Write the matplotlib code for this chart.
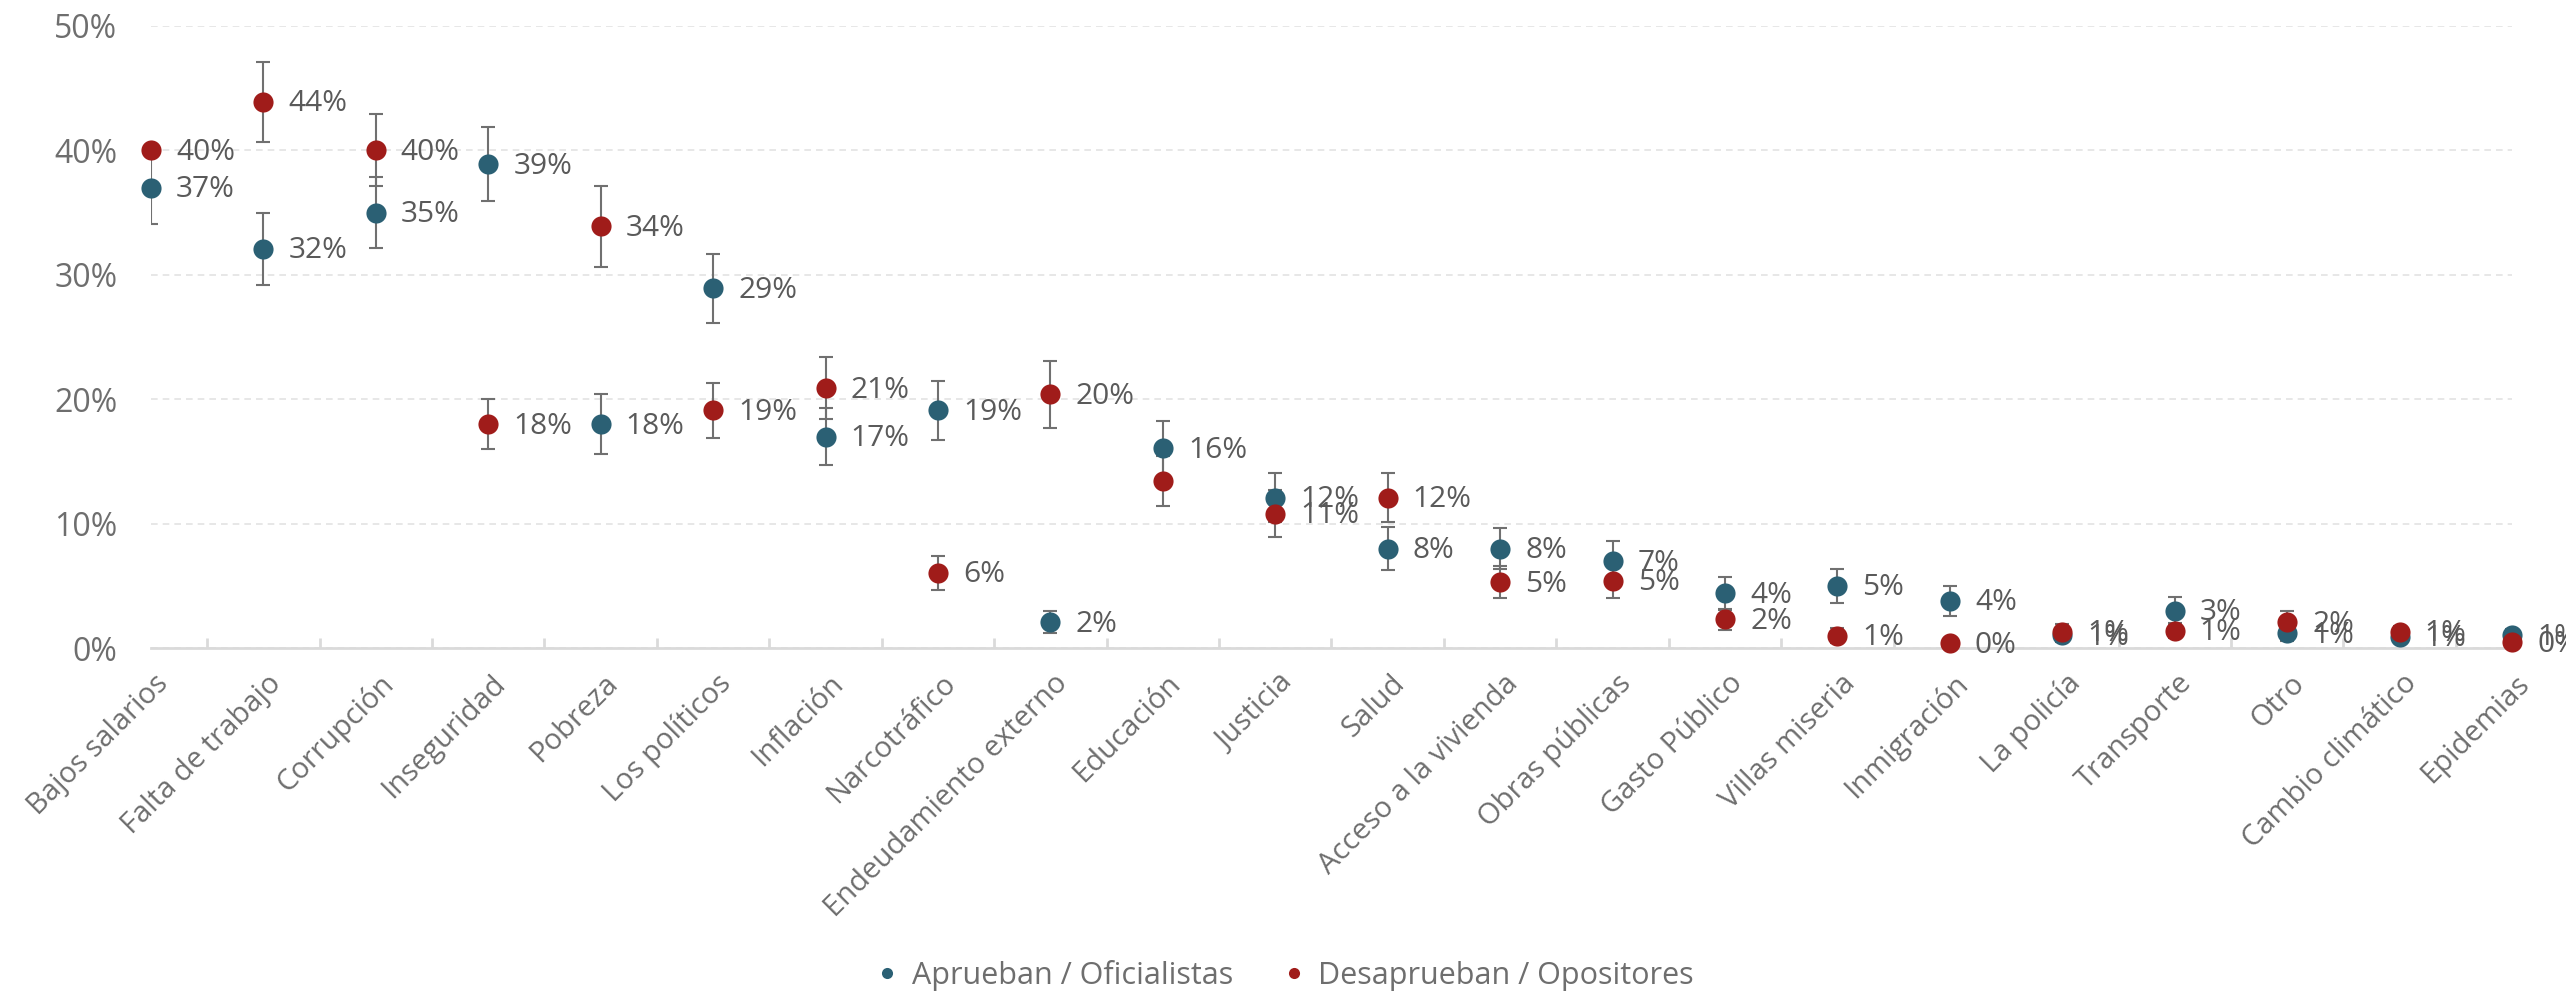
import matplotlib
matplotlib.use("Agg")
import matplotlib.pyplot as plt
import matplotlib.transforms as mtransforms
from matplotlib.ticker import FixedLocator, PercentFormatter
from matplotlib.lines import Line2D
import numpy as np

plt.rcParams['font.family'] = ['Open Sans', 'DejaVu Sans']

# problem categories
categories = ["Bajos salarios", "Falta de trabajo", "Corrupción", "Inseguridad", "Pobreza",
              "Los políticos", "Inflación", "Narcotráfico", "Endeudamiento externo", "Educación",
              "Justicia", "Salud", "Acceso a la vivienda", "Obras públicas", "Gasto Público",
              "Villas miseria", "Inmigración", "La policía", "Transporte", "Otro",
              "Cambio climático", "Epidemias"]

# Aprueban / Oficialistas
aprueban = [37, 32.1, 35, 38.9, 18, 28.9, 17, 19.1, 2.1, 16.05, 12.1, 8.0,
            8.0, 7.0, 4.4, 5.0, 3.8, 1.05, 3.0, 1.2, 0.9, 1.05]
aprueban_err = [2.9, 2.9, 2.85, 3.0, 2.4, 2.8, 2.3, 2.4, 0.9, 2.2, 2.0, 1.7,
                1.65, 1.6, 1.3, 1.35, 1.2, 0.6, 1.07, 0.6, 0.5, 0.5]

# Desaprueban / Opositores
desaprueban = [40, 43.9, 40, 18, 33.9, 19.1, 20.9, 6.05, 20.4, 13.4, 10.8, 12.1,
               5.3, 5.4, 2.3, 1.0, 0.4, 1.3, 1.4, 2.1, 1.3, 0.45]
desaprueban_err = [0, 3.2, 2.9, 2.0, 3.25, 2.2, 2.5, 1.35, 2.7, 2.0, 1.9, 2.0,
                   1.3, 1.4, 0.85, 0.6, 0.4, 0.6, 0.6, 0.9, 0.5, 0.4]
# labels that are hidden in the original (overlap)
desaprueban_hidden = ["Educación"]

blue = "#2B6074"
red = "#A01C1A"
label_col = "#5A5A5A"
tick_col = "#6E6E6E"

fig = plt.figure(figsize=(25.66, 9.94), dpi=100)
ax = fig.add_axes([0.0588, 0.348, 0.9202, 0.626])

x = np.arange(len(categories))

for vals, errs, col, hidden in [(aprueban, aprueban_err, blue, []),
                                (desaprueban, desaprueban_err, red, desaprueban_hidden)]:
    ax.errorbar(x, vals, yerr=errs, fmt="none", ecolor="#707070", elinewidth=1.5,
                capsize=5, capthick=1.5, zorder=2)
    ax.plot(x, vals, "o", color=col, markersize=14.5, markeredgewidth=0,
            clip_on=False, zorder=3)
    for xi, v, cat in zip(x, vals, categories):
        if cat in hidden:
            continue
        ax.annotate(f"{round(v):.0f}%", (xi, v), xytext=(18, -1.5), textcoords="offset points",
                    ha="left", va="center", fontsize=21.5, color=label_col,
                    annotation_clip=False, zorder=4)

ax.set_xlim(0, len(categories) - 1)
ax.set_ylim(0, 50)

ax.yaxis.set_major_locator(FixedLocator([0, 10, 20, 30, 40, 50]))
ax.yaxis.set_major_formatter(PercentFormatter(decimals=0))
ax.grid(axis="y", color="#E3E3E3", linestyle=(0, (4, 3)), linewidth=1.2)
ax.set_axisbelow(True)
ax.tick_params(axis="y", length=0, pad=24, labelsize=23, labelcolor=tick_col)

ax.set_xticks(x)
ax.set_xticklabels(categories, rotation=45, ha="right", va="top",
                   rotation_mode="anchor", fontsize=21, color=tick_col)
ax.tick_params(axis="x", which="major", length=0, pad=15)
shift = mtransforms.ScaledTranslation(3 / 100, 0, fig.dpi_scale_trans)
for lab in ax.get_xticklabels():
    lab.set_transform(lab.get_transform() + shift)
ax.set_xticks(x[:-1] + 0.5, minor=True)
ax.tick_params(axis="x", which="minor", direction="in", length=7, width=2, color="#DADADA")

for s in ["top", "right", "left"]:
    ax.spines[s].set_visible(False)
ax.spines["bottom"].set_color("#DADADA")
ax.spines["bottom"].set_linewidth(2)

handles = [Line2D([], [], marker="o", linestyle="none", color=blue, markersize=8,
                  markeredgewidth=0, label="Aprueban / Oficialistas"),
           Line2D([], [], marker="o", linestyle="none", color=red, markersize=8,
                  markeredgewidth=0, label="Desaprueban / Opositores")]
leg = fig.legend(handles=handles, loc="center", bbox_to_anchor=(0.5, 0.019), ncol=2,
                 frameon=False, fontsize=22, handletextpad=0.3, columnspacing=1.5,
                 handlelength=1.0)
for t in leg.get_texts():
    t.set_color(tick_col)

fig.savefig("out.png", dpi=100)
